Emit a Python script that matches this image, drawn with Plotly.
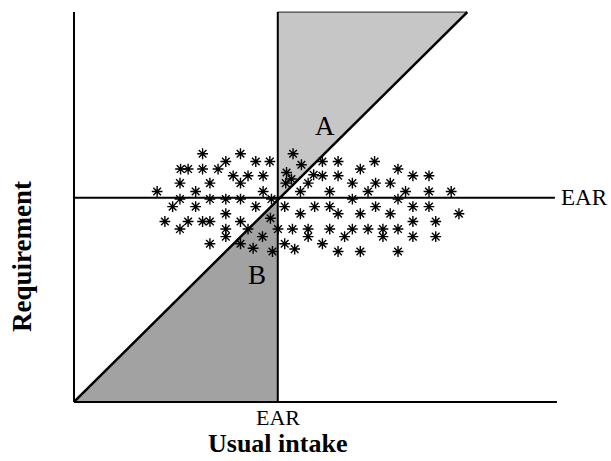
import plotly.graph_objects as go

# Units: EAR = 100 on both axes
EAR = 100
X_MAX = 237      # end of the intake axis
Y_MAX = 191      # top of the requirement axis
DIAG_END = 193   # intake value where the diagonal reaches the top

# individual (usual intake, requirement) pairs
star_x = [63.1, 81.7, 74.5, 89.2, 96.1, 107.5, 52.3, 56.0, 63.1, 70.7,
          78.1, 85.4, 92.8, 81.7, 52.0, 66.7, 104.3, 106.7, 103.9, 40.8,
          59.7, 92.8, 52.0, 66.7, 74.5, 81.7, 96.9, 48.4, 59.7, 89.2,
          103.4, 74.5, 44.6, 56.0, 63.1, 66.7, 81.7, 96.4, 52.0, 74.5,
          74.5, 85.4, 100.1, 107.2, 92.5, 66.7, 81.7, 87.9, 97.4, 103.4,
          108.3, 111.6, 121.9, 129.6, 147.5, 140.5, 159.0, 117.6, 121.9, 129.6,
          166.3, 174.2, 114.9, 136.6, 148.0, 155.2, 111.1, 125.5, 144.3, 162.7,
          174.2, 185.1, 136.6, 159.0, 118.1, 125.5, 148.0, 166.3, 174.2, 111.1,
          129.6, 140.5, 155.2, 188.9, 166.3, 177.5, 114.9, 114.9, 125.5, 136.6,
          144.3, 151.6, 151.6, 159.0, 132.8, 166.3, 177.5, 121.9, 129.6, 140.5,
          159.0]
star_y = [121.6, 121.6, 117.8, 117.8, 117.8, 121.6, 114.1, 114.1, 114.1, 114.1,
          110.8, 110.8, 110.8, 107.2, 107.2, 107.2, 112.4, 109.2, 107.2, 103.1,
          103.1, 103.1, 99.4, 99.4, 99.4, 99.4, 99.4, 95.7, 95.7, 95.7,
          95.7, 92.2, 88.4, 88.4, 88.4, 88.4, 88.4, 90.0, 84.7, 84.7,
          81.0, 84.7, 84.7, 84.7, 81.0, 77.5, 77.5, 75.3, 73.7, 77.5,
          74.9, 116.2, 117.8, 117.8, 117.8, 114.1, 114.1, 111.3, 110.8, 110.8,
          110.8, 110.8, 107.2, 107.2, 107.2, 107.2, 103.1, 103.1, 103.1, 103.1,
          103.1, 103.1, 99.4, 99.4, 95.7, 95.7, 95.7, 95.7, 95.7, 92.2,
          92.2, 92.2, 92.2, 92.2, 88.4, 88.4, 84.7, 81.0, 84.7, 84.7,
          84.7, 84.7, 81.0, 84.7, 81.0, 81.0, 81.0, 77.5, 73.7, 73.7,
          73.7]

SERIF = "Liberation Serif, Times New Roman, serif"
XR = [-1.47, 238.0]
YR = [-1.5, 193.0]

def px_(v):  # data x -> paper x
    return (v - XR[0]) / (XR[1] - XR[0])

def py_(v):  # data y -> paper y
    return (v - YR[0]) / (YR[1] - YR[0])

fig = go.Figure()

diag_at_ear = EAR * Y_MAX / DIAG_END

# shaded region A
fig.add_trace(go.Scatter(x=[EAR, EAR, DIAG_END, EAR], y=[diag_at_ear, Y_MAX, Y_MAX, diag_at_ear],
                         fill="toself", fillcolor="#c6c6c6", mode="lines",
                         line=dict(color="#c6c6c6", width=0), hoverinfo="skip"))
# shaded region B
fig.add_trace(go.Scatter(x=[0, EAR, EAR, 0], y=[0, 0, diag_at_ear, 0],
                         fill="toself", fillcolor="#a2a2a2", mode="lines",
                         line=dict(color="#a2a2a2", width=0), hoverinfo="skip"))

line_style = dict(color="black", width=2)
fig.add_trace(go.Scatter(x=[0, 0], y=[Y_MAX, 0], mode="lines", line=line_style, hoverinfo="skip"))
fig.add_trace(go.Scatter(x=[0, X_MAX], y=[0, 0], mode="lines", line=line_style, hoverinfo="skip"))
fig.add_trace(go.Scatter(x=[EAR, DIAG_END], y=[Y_MAX, Y_MAX], mode="lines",
                         line=dict(color="#444444", width=1.2), hoverinfo="skip"))
fig.add_trace(go.Scatter(x=[0, X_MAX - 1], y=[EAR, EAR], mode="lines", line=line_style, hoverinfo="skip"))
fig.add_trace(go.Scatter(x=[EAR, EAR], y=[0, Y_MAX], mode="lines", line=line_style, hoverinfo="skip"))
fig.add_trace(go.Scatter(x=[0, DIAG_END], y=[0, Y_MAX], mode="lines",
                         line=dict(color="black", width=2.5), hoverinfo="skip"))

fig.add_trace(go.Scatter(x=star_x, y=star_y, mode="markers", cliponaxis=False,
                         marker=dict(symbol="asterisk-open", size=9, color="black",
                                     line=dict(color="black", width=1.4)),
                         hoverinfo="skip"))

ann = [
    dict(x=px_(123), y=py_(135), text="A", font=dict(size=27)),
    dict(x=px_(90), y=py_(62), text="B", font=dict(size=27)),
    dict(x=px_(EAR), y=py_(-7.4), text="EAR", font=dict(size=22)),
    dict(x=px_(EAR), y=0, text="<b>Usual intake</b>", font=dict(size=26),
         yanchor="top", yshift=-(461 - 8 - 397 - 34)),
    dict(x=px_(X_MAX + 1), y=py_(EAR), text="EAR", font=dict(size=23), xanchor="left"),
    dict(x=px_(-25.5), y=py_(71), text="<b>Requirement</b>", font=dict(size=27), textangle=-90),
]
for a in ann:
    a.setdefault("xanchor", "center")
    a.setdefault("yanchor", "middle")
    a["font"]["family"] = SERIF
    a["font"]["color"] = "black"
    fig.add_annotation(xref="paper", yref="paper", showarrow=False, **a)

fig.update_layout(
    width=611, height=461,
    margin=dict(l=71, r=52, t=8, b=56),
    paper_bgcolor="white", plot_bgcolor="white",
    showlegend=False,
    xaxis=dict(range=XR, visible=False, fixedrange=True),
    yaxis=dict(range=YR, visible=False, fixedrange=True),
)

fig.write_html("out.html", config={"displayModeBar": False},
               post_script="document.body.style.margin='0';document.body.style.overflow='hidden';")
